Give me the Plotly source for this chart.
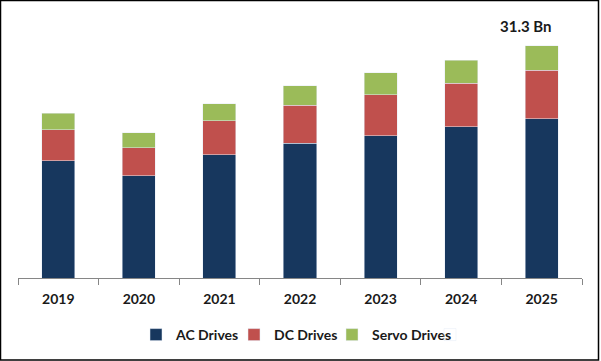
import plotly.graph_objects as go

years = ["2019", "2020", "2021", "2022", "2023", "2024", "2025"]
ac_drives = [15.8, 13.8, 16.6, 18.2, 19.2, 20.4, 21.5]
dc_drives = [4.2, 3.8, 4.6, 5.1, 5.5, 5.9, 6.5]
servo_drives = [2.2, 2.0, 2.3, 2.6, 3.0, 3.1, 3.3]
total_label = "31.3 Bn"

FONT = "Lato"
TXT = "#1a1a1a"

fig = go.Figure()
fig.add_bar(x=years, y=ac_drives, name="<b>AC Drives</b>", marker_color="#17375E")
fig.add_bar(x=years, y=dc_drives, name="<b>DC Drives</b>", marker_color="#C0504D")
fig.add_bar(x=years, y=servo_drives, name="<b>Servo Drives</b>", marker_color="#9BBB59")
# invisible spacer entry so the last legend label is not clipped
fig.add_bar(x=[None], y=[None], name=" ", marker_color="rgba(0,0,0,0)",
            showlegend=True, hoverinfo="skip")

last_total = ac_drives[-1] + dc_drives[-1] + servo_drives[-1]
fig.add_annotation(x=len(years) - 1, y=last_total, text="<b>" + total_label + "</b>",
                   showarrow=False, yanchor="bottom", yshift=9, xshift=-16,
                   font=dict(family=FONT, size=15, color=TXT))

W, H = 601, 361
ml, mr, mt, mb = 18, 19, 10, 83
pw, ph = W - ml - mr, H - mt - mb

fig.add_shape(type="rect", xref="paper", yref="paper",
              x0=(0.5 - ml) / pw, x1=(598.5 - ml) / pw,
              y0=(H - mb - 360) / ph, y1=(H - mb - 0.5) / ph,
              line=dict(color="black", width=1.5), fillcolor="rgba(0,0,0,0)")

fig.update_layout(
    width=W, height=H, barmode="stack", bargap=0.59,
    margin=dict(l=ml, r=mr, t=mt, b=mb, autoexpand=False),
    paper_bgcolor="white", plot_bgcolor="white",
    font=dict(family=FONT, size=14, color=TXT),
    showlegend=True,
    legend=dict(orientation="h", x=(136 - ml) / pw, xanchor="left", y=(H - mb - 335) / ph,
                yanchor="middle", font=dict(family=FONT, size=14, color=TXT),
                itemwidth=30, entrywidth=53, traceorder="normal"),
)
fig.update_xaxes(type="category", range=[-0.5, len(years) - 0.5],
                 showline=True, linecolor="#868686", linewidth=1,
                 ticks="outside", tickson="boundaries", ticklen=6, tickcolor="#868686",
                 ticklabelstandoff=8,
                 tickfont=dict(family=FONT, size=14, color=TXT),
                 tickprefix="<b>", ticksuffix="</b>", showgrid=False)
fig.update_yaxes(range=[0, 36.15], visible=False, showgrid=False)

fig.write_html("out.html", config=dict(displayModeBar=False),
               post_script="document.body.style.margin='0';document.body.style.overflow='hidden';")
